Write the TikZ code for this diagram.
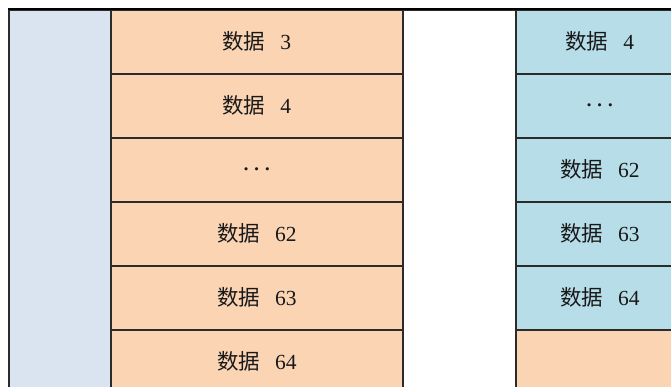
\documentclass[tikz,border=0pt]{standalone}
\usepackage{fontspec}
\setmainfont{Liberation Serif}
\newfontfamily\cjk{Noto Sans CJK SC}
\definecolor{leftblue}{HTML}{DAE3F0}
\definecolor{cellorange}{HTML}{FBD4B4}
\definecolor{cellblue}{HTML}{B6DDE8}
\definecolor{edge}{HTML}{2B2B2B}
\newcommand{\lbl}[1]{{\cjk 数据}\hspace{15pt}#1}
\begin{document}
\begin{tikzpicture}[x=1pt,y=-1pt,
  cellbox/.style={draw=edge, line width=1.6pt, minimum width=292pt, minimum height=64pt, inner sep=0pt, font=\fontsize{21.5}{24}\selectfont, text=black!90, anchor=north west},
  orangecell/.style={cellbox, fill=cellorange},
  bluecell/.style={cellbox, fill=cellblue, minimum width=168pt}]
\useasboundingbox (0,0) rectangle (671,387);
\clip (0,0) rectangle (671,387);
\node[draw=edge, line width=1.6pt, fill=leftblue, minimum width=102pt, minimum height=400pt, anchor=north west] (leftcol) at (8,9) {};
\node[orangecell] (o1) at (110,9) {\lbl{3}};
\node[orangecell] (o2) at (110,73) {\lbl{4}};
\node[orangecell] (o3) at (110,137) {{\boldmath$\cdots$}};
\node[orangecell] (o4) at (110,201) {\lbl{62}};
\node[orangecell] (o5) at (110,265) {\lbl{63}};
\node[orangecell] (o6) at (110,329) {\lbl{64}};
\node[draw=edge, line width=1.6pt, fill=white, minimum width=113pt, minimum height=400pt, anchor=north west] (gap) at (402,9) {};
\node[bluecell] (b1) at (515,9) {\lbl{4}};
\node[bluecell] (b2) at (515,73) {{\boldmath$\cdots$}};
\node[bluecell] (b3) at (515,137) {\lbl{62}};
\node[bluecell] (b4) at (515,201) {\lbl{63}};
\node[bluecell] (b5) at (515,265) {\lbl{64}};
\node[cellbox, fill=cellorange, minimum width=168pt] (b6) at (515,329) {};
\draw[black, line width=1.8pt] (leftcol.north west) -- (b1.north east);
\end{tikzpicture}
\end{document}
